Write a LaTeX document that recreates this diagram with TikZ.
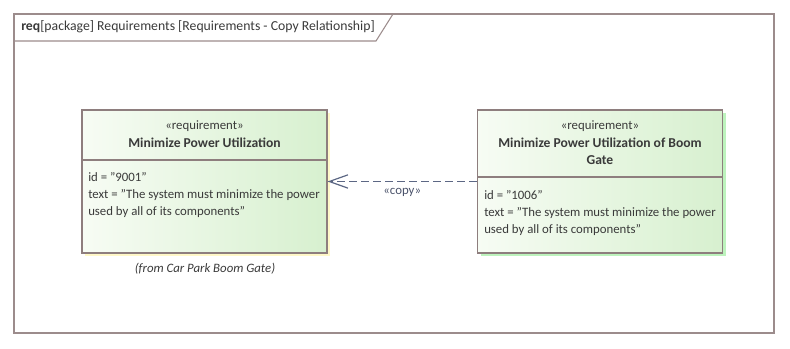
\documentclass[tikz,border=0pt]{standalone}
\usepackage{fontspec}
\setmainfont{Carlito}
\usetikzlibrary{arrows.meta,shadows}

\definecolor{framegray}{HTML}{9C8C8C}
\definecolor{boxedge}{HTML}{8E7E7E}
\definecolor{reqlight}{HTML}{F7FCF4}
\definecolor{reqdark}{HTML}{D7F0CF}
\definecolor{shadowyel}{HTML}{FFF8C8}
\definecolor{shadowgrn}{HTML}{BDF3BD}
\definecolor{linkblue}{HTML}{5C6784}
\definecolor{txt}{HTML}{3A3A3A}

\tikzset{
	reqbox/.style={draw=boxedge, line width=0.8pt, left color=reqlight, right color=reqdark,
		minimum width=183.75pt, minimum height=107.25pt},
	reqname/.style={font=\fontsize{10.2}{13}\selectfont\bfseries},
	copylink/.style={draw=linkblue, line width=0.9pt, dash pattern=on 6pt off 3pt,
		-{Straight Barb[length=14pt, width=10pt]}}
}

\begin{document}
\begin{tikzpicture}[x=0.75pt, y=-0.75pt, every node/.style={font=\fontsize{9.6}{13}\selectfont, text=txt, inner sep=0pt}]
	\useasboundingbox (0,0) rectangle (790,349);
	% diagram frame and its tab
	\draw[framegray, line width=1.2pt] (14,14) rectangle (774,333);
	\draw[framegray, line width=0.8pt] (14,41) -- (376,41) -- (393,14);
	\node[anchor=west, font=\fontsize{10.3}{13}\selectfont] (frametitle) at (21,27) {\textbf{req}[package] Requirements [Requirements - Copy Relationship]};
	% left requirement
	\node[reqbox, drop shadow={fill=shadowyel, opacity=1, shadow xshift=2.5pt, shadow yshift=-2.5pt}] (minpower) at (204.5,181.5) {};
	\node (minpowerst) at (204.5,126) {«requirement»};
	\node[reqname] (minpowername) at (204.5,143) {Minimize Power Utilization};
	\coordinate (minpowersplit) at (82,160);
	\draw[boxedge, line width=0.8pt] (minpowersplit) -- (minpowersplit -| minpower.east);
	\node[anchor=north west, align=left] (minpowerbody) at (88,172) {id = "9001"\\ text = "The system must minimize the power\\ used by all of its components"};
	\node[font=\fontsize{9.6}{13}\selectfont\itshape] (minpowerfrom) at (205,269) {(from Car Park Boom Gate)};
	% right requirement
	\node[reqbox, drop shadow={fill=shadowgrn, opacity=1, shadow xshift=2.5pt, shadow yshift=-2.5pt}] (boomgate) at (600,181.5) {};
	\node (boomgatest) at (600,126) {«requirement»};
	\node[reqname, align=center] (boomgatename) at (600,151.5) {Minimize Power Utilization of Boom\\ Gate};
	\coordinate (boomgatesplit) at (478,177);
	\draw[boxedge, line width=0.8pt] (boomgatesplit) -- (boomgatesplit -| boomgate.east);
	\node[anchor=north west, align=left] (boomgatebody) at (484,190) {id = "1006"\\ text = "The system must minimize the power\\ used by all of its components"};
	% copy relationship
	\draw[copylink] (boomgate.west) -- (minpower.east) node[midway, anchor=north, yshift=-5pt, text=linkblue!80!black] (copylabel) {«copy»};
\end{tikzpicture}
\end{document}
